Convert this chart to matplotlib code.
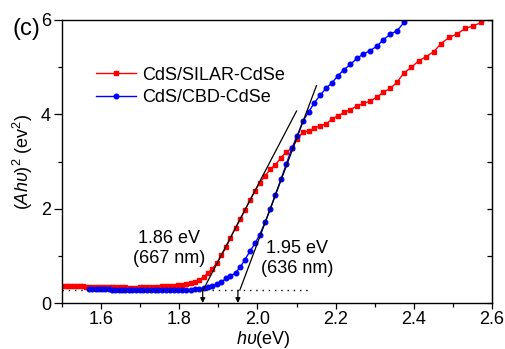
import matplotlib
matplotlib.use("Agg")
import matplotlib.pyplot as plt
from matplotlib.ticker import MultipleLocator

plt.rcParams['font.family'] = ['Liberation Sans', 'DejaVu Sans']
plt.rcParams['mathtext.fontset'] = 'custom'
plt.rcParams['mathtext.rm'] = 'Liberation Sans'
plt.rcParams['mathtext.it'] = 'Liberation Sans:italic'

# ---- data ----
silar_x = [1.501, 1.509, 1.516, 1.523, 1.531, 1.538, 1.546, 1.554, 1.562, 1.570,
           1.578, 1.586, 1.594, 1.602, 1.610, 1.619, 1.627, 1.636, 1.645, 1.653,
           1.662, 1.671, 1.680, 1.689, 1.699, 1.708, 1.717, 1.727, 1.737, 1.746,
           1.756, 1.766, 1.777, 1.787, 1.797, 1.808, 1.818, 1.829, 1.840, 1.851,
           1.862, 1.873, 1.884, 1.896, 1.908, 1.920, 1.931, 1.944, 1.956, 1.968,
           1.981, 1.994, 2.006, 2.020, 2.033, 2.046, 2.060, 2.074, 2.088, 2.102,
           2.116, 2.131, 2.145, 2.160, 2.175, 2.191, 2.206, 2.222, 2.238, 2.255,
           2.271, 2.288, 2.305, 2.322, 2.340, 2.357, 2.375, 2.394, 2.412, 2.431,
           2.451, 2.470, 2.490, 2.510, 2.531, 2.551, 2.573, 2.594]
silar_y = [0.36, 0.36, 0.36, 0.355, 0.355, 0.35, 0.35, 0.35, 0.345, 0.345,
           0.34, 0.34, 0.34, 0.335, 0.335, 0.335, 0.33, 0.33, 0.33, 0.33,
           0.33, 0.325, 0.325, 0.325, 0.33, 0.33, 0.33, 0.335, 0.34, 0.345,
           0.35, 0.355, 0.36, 0.37, 0.38, 0.39, 0.40, 0.42, 0.45, 0.49,
           0.55, 0.63, 0.72, 0.85, 1.02, 1.18, 1.38, 1.60, 1.78, 1.97,
           2.18, 2.38, 2.55, 2.70, 2.84, 2.93, 3.08, 3.20, 3.28, 3.48,
           3.62, 3.65, 3.70, 3.76, 3.79, 3.90, 3.97, 4.04, 4.10, 4.18,
           4.23, 4.28, 4.36, 4.47, 4.55, 4.68, 4.88, 5.00, 5.13, 5.22,
           5.33, 5.50, 5.63, 5.70, 5.82, 5.87, 5.95, 6.05]

cbd_x = [1.570, 1.578, 1.586, 1.594, 1.602, 1.610, 1.619, 1.627, 1.636, 1.645,
         1.653, 1.662, 1.671, 1.680, 1.689, 1.699, 1.708, 1.717, 1.727, 1.737,
         1.746, 1.756, 1.766, 1.777, 1.787, 1.797, 1.808, 1.818, 1.829, 1.840,
         1.851, 1.862, 1.873, 1.884, 1.896, 1.908, 1.920, 1.931, 1.944, 1.956,
         1.968, 1.981, 1.994, 2.006, 2.020, 2.033, 2.046, 2.060, 2.074, 2.088,
         2.102, 2.116, 2.131, 2.145, 2.160, 2.175, 2.191, 2.206, 2.222, 2.238,
         2.255, 2.271, 2.288, 2.305, 2.322, 2.340, 2.357, 2.375, 2.394]
cbd_y = [0.30, 0.30, 0.295, 0.295, 0.29, 0.29, 0.29, 0.285, 0.285, 0.28,
         0.28, 0.28, 0.275, 0.275, 0.275, 0.27, 0.27, 0.27, 0.27, 0.27,
         0.27, 0.27, 0.27, 0.27, 0.275, 0.275, 0.28, 0.28, 0.285, 0.29,
         0.30, 0.31, 0.33, 0.36, 0.40, 0.45, 0.52, 0.57, 0.64, 0.76,
         0.92, 1.10, 1.27, 1.45, 1.72, 2.00, 2.30, 2.62, 2.95, 3.28,
         3.55, 3.85, 4.05, 4.24, 4.40, 4.55, 4.67, 4.82, 4.95, 5.06,
         5.19, 5.28, 5.35, 5.44, 5.58, 5.70, 5.77, 5.95, 6.30]

series_labels = ['CdS/SILAR-CdSe', 'CdS/CBD-CdSe']

# tangent (Tauc fit) lines: [x_start, x_end], [y_start, y_end]
tan_silar_x = [1.861, 2.100]
tan_silar_y = [0.275, 4.07]
tan_cbd_x = [1.955, 2.151]
tan_cbd_y = [0.275, 4.61]

baseline_y = 0.27
baseline_x = [1.5, 2.135]
gap_values = [1.86, 1.95]
gap_labels = ['1.86 eV\n(667 nm)', '1.95 eV\n(636 nm)']
gap_label_pos = [(1.774, 1.16), (2.101, 0.95)]

# ---- figure ----
fig = plt.figure(figsize=(5.05, 3.49), dpi=100)
ax = fig.add_axes([62/505, 46/349, 430/505, 283/349])

ax.plot(silar_x, silar_y, color='#ff0000', lw=1.0, marker='s', ms=3,
        mec='#ff0000', mfc='#ff0000', label=series_labels[0])
ax.plot(cbd_x, cbd_y, color='#0000ff', lw=1.0, marker='o', ms=3.3,
        mec='#0000ff', mfc='#0000ff', label=series_labels[1])

ax.plot(tan_silar_x, tan_silar_y, color='black', lw=0.9)
ax.plot(tan_cbd_x, tan_cbd_y, color='black', lw=0.9)
ax.plot(baseline_x, [baseline_y, baseline_y], color='black', lw=1.0,
        ls=(0, (1, 3.5)))

for g in gap_values:
    ax.annotate('', xy=(g, 0.0), xytext=(g, baseline_y),
                arrowprops=dict(arrowstyle='-|>', color='black', lw=0.9,
                                mutation_scale=7, shrinkA=0, shrinkB=0))

for lab, (lx, ly) in zip(gap_labels, gap_label_pos):
    ax.text(lx, ly, lab, ha='center', va='center', fontsize=13,
            linespacing=1.25)

ax.set_xlim(1.5, 2.6)
ax.set_ylim(0, 6)
ax.xaxis.set_major_locator(MultipleLocator(0.2))
ax.xaxis.set_minor_locator(MultipleLocator(0.1))
ax.yaxis.set_major_locator(MultipleLocator(2))
ax.yaxis.set_minor_locator(MultipleLocator(1))
ax.xaxis.set_major_formatter(matplotlib.ticker.FormatStrFormatter('%.1f'))

ax.tick_params(axis='both', which='both', labelsize=13, width=0.9)
ax.tick_params(axis='x', which='major', direction='out', length=4, pad=1.5)
ax.tick_params(axis='x', which='minor', direction='out', length=3)
ax.tick_params(axis='y', which='major', direction='out', length=6, pad=2)
ax.tick_params(axis='y', which='minor', direction='out', length=3)
# inward ticks on the right side via secondary axis
axr = ax.secondary_yaxis('right')
axr.yaxis.set_major_locator(MultipleLocator(2))
axr.yaxis.set_minor_locator(MultipleLocator(1))
axr.tick_params(axis='y', which='both', direction='in', length=3.5,
                labelright=False, width=0.9)

for s in ax.spines.values():
    s.set_linewidth(1.0)

fig.text(263/505, 1 - 339/349, r'$h\upsilon$(eV)', fontsize=13,
         ha='center', va='center')
ax.set_ylabel(r'$(Ah\upsilon)^2$ (ev$^2$)', fontsize=13, labelpad=4)

leg = ax.legend(loc='upper left', bbox_to_anchor=(0.08, 0.835), frameon=False,
                fontsize=13, handlelength=2.2, handletextpad=0.35,
                labelspacing=0.3, borderpad=0, borderaxespad=0)

fig.text(12/505, 1 - 29/349, '(c)', fontsize=17, ha='left', va='center')

fig.savefig('out.png', dpi=100)
